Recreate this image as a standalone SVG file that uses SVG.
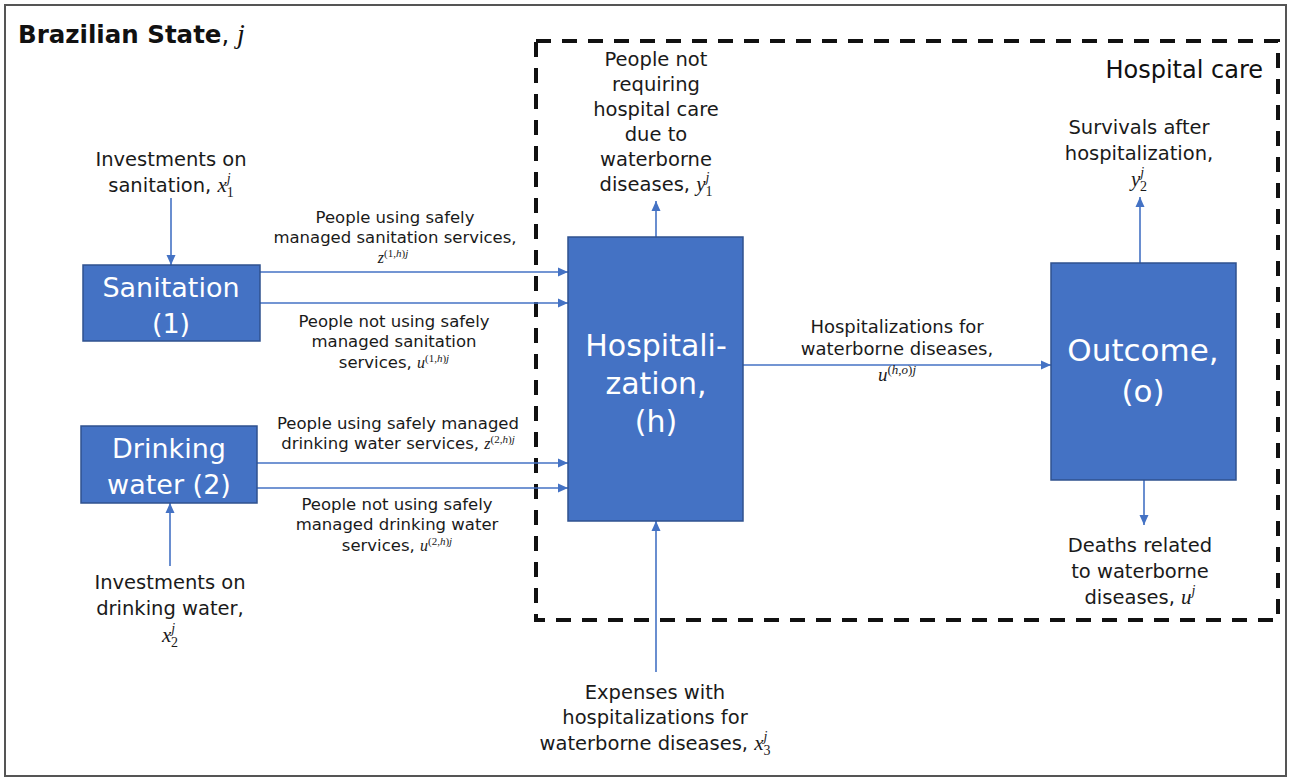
<svg xmlns="http://www.w3.org/2000/svg" width="1292" height="780" viewBox="0 0 1292 780">
<defs>
<marker id="ah" viewBox="0 0 10 10" refX="10" refY="5" markerWidth="10" markerHeight="10" markerUnits="userSpaceOnUse" orient="auto">
<path d="M0,0.5 L10,5 L0,9.5 Z" fill="#4472C4"/>
</marker>
<style>
.box{fill:#4472C4;stroke:#2F528F;stroke-width:1.5}
.nt{font-family:"DejaVu Sans","Liberation Sans",Arial,sans-serif;fill:#fff;text-anchor:middle}
.lb{font-family:"DejaVu Sans","Liberation Sans",Arial,sans-serif;fill:#1a1a1a;text-anchor:middle}
.m{font-family:"Liberation Serif","Times New Roman",serif;font-style:italic}
.mu{font-family:"Liberation Serif","Times New Roman",serif;font-style:normal}
.c{stroke:#4472C4;stroke-width:1.6;fill:none;marker-end:url(#ah)}
</style>
</defs>
<rect x="0" y="0" width="1292" height="780" fill="#fff"/>
<rect x="5" y="5" width="1281" height="771" fill="none" stroke="#555" stroke-width="2"/>
<text x="18" y="43" font-family="DejaVu Sans,Liberation Sans,sans-serif" font-weight="bold" font-size="24.5" fill="#111">Brazilian State<tspan font-weight="normal">, </tspan><tspan class="m" font-weight="normal" font-size="28">j</tspan></text>
<g id="hospital-care">
<rect x="536" y="41" width="742" height="579" fill="none" stroke="#111" stroke-width="4" stroke-dasharray="15 11"/>
<text x="1263" y="78" font-family="DejaVu Sans,Liberation Sans,sans-serif" font-size="24" fill="#111" text-anchor="end">Hospital care</text>
</g>
<g id="connectors">
<line class="c" x1="171" y1="198" x2="171" y2="265"/>
<line class="c" x1="170" y1="566" x2="170" y2="503"/>
<line class="c" x1="260" y1="272" x2="568" y2="272"/>
<line class="c" x1="260" y1="303" x2="568" y2="303"/>
<line class="c" x1="257" y1="463" x2="568" y2="463"/>
<line class="c" x1="257" y1="488" x2="568" y2="488"/>
<line class="c" x1="656" y1="237" x2="656" y2="201"/>
<line class="c" x1="656" y1="672" x2="656" y2="521"/>
<line class="c" x1="743" y1="365" x2="1051" y2="365"/>
<line class="c" x1="1140" y1="263" x2="1140" y2="197"/>
<line class="c" x1="1144" y1="480" x2="1144" y2="525"/>
</g>
<g id="sanitation">
<rect class="box" x="83" y="265" width="177" height="76"/>
<text class="nt" x="171" y="297" font-size="27">Sanitation</text>
<text class="nt" x="171" y="333" font-size="27">(1)</text>
</g>
<g id="drinking-water">
<rect class="box" x="81" y="426" width="176" height="77"/>
<text class="nt" x="169" y="458" font-size="27">Drinking</text>
<text class="nt" x="169" y="494" font-size="27">water (2)</text>
</g>
<g id="hospitalization">
<rect class="box" x="568" y="237" width="175" height="284"/>
<text class="nt" x="656" y="356" font-size="30">Hospitali-</text>
<text class="nt" x="656" y="394" font-size="30">zation,</text>
<text class="nt" x="656" y="432" font-size="30">(h)</text>
</g>
<g id="outcome">
<rect class="box" x="1051" y="263" width="185" height="217"/>
<text class="nt" x="1143" y="361" font-size="31">Outcome,</text>
<text class="nt" x="1143" y="402" font-size="31">(o)</text>
</g>
<g id="labels">
<text class="lb" x="171" y="166" font-size="19.5">Investments on</text>
<text class="lb" x="171" y="192" font-size="19.5">sanitation, <tspan class="m" font-size="21">x</tspan><tspan class="m" font-size="14" dy="-9">j</tspan><tspan class="mu" font-size="14" dx="-4" dy="14">1</tspan></text>

<text class="lb" x="395" y="223" font-size="16.5">People using safely</text>
<text class="lb" x="395" y="243" font-size="16.5">managed sanitation services,</text>
<text class="lb" x="393" y="263" font-size="16.5"><tspan class="m" font-size="16">z</tspan><tspan class="mu" font-size="11" dy="-6">(1,</tspan><tspan class="m" font-size="11">h</tspan><tspan class="mu" font-size="11">)</tspan><tspan class="m" font-size="11">j</tspan></text>

<text class="lb" x="394" y="327" font-size="16.5">People not using safely</text>
<text class="lb" x="394" y="347" font-size="16.5">managed sanitation</text>
<text class="lb" x="394" y="368" font-size="16.5">services, <tspan class="m" font-size="16">u</tspan><tspan class="mu" font-size="11" dy="-6">(1,</tspan><tspan class="m" font-size="11">h</tspan><tspan class="mu" font-size="11">)</tspan><tspan class="m" font-size="11">j</tspan></text>

<text class="lb" x="398" y="429" font-size="16.5">People using safely managed</text>
<text class="lb" x="398" y="449" font-size="16.5">drinking water services, <tspan class="m" font-size="16">z</tspan><tspan class="mu" font-size="11" dy="-6">(2,</tspan><tspan class="m" font-size="11">h</tspan><tspan class="mu" font-size="11">)</tspan><tspan class="m" font-size="11">j</tspan></text>

<text class="lb" x="397" y="510" font-size="16.5">People not using safely</text>
<text class="lb" x="397" y="530" font-size="16.5">managed drinking water</text>
<text class="lb" x="397" y="551" font-size="16.5">services, <tspan class="m" font-size="16">u</tspan><tspan class="mu" font-size="11" dy="-6">(2,</tspan><tspan class="m" font-size="11">h</tspan><tspan class="mu" font-size="11">)</tspan><tspan class="m" font-size="11">j</tspan></text>

<text class="lb" x="170" y="589" font-size="19.5">Investments on</text>
<text class="lb" x="170" y="615" font-size="19.5">drinking water,</text>
<text class="lb" x="170" y="642" font-size="19.5"><tspan class="m" font-size="21">x</tspan><tspan class="m" font-size="14" dy="-9">j</tspan><tspan class="mu" font-size="14" dx="-4" dy="14">2</tspan></text>

<text class="lb" x="656" y="66" font-size="19.5">People not</text>
<text class="lb" x="656" y="91" font-size="19.5">requiring</text>
<text class="lb" x="656" y="116" font-size="19.5">hospital care</text>
<text class="lb" x="656" y="141" font-size="19.5">due to</text>
<text class="lb" x="656" y="166" font-size="19.5">waterborne</text>
<text class="lb" x="656" y="191" font-size="19.5">diseases, <tspan class="m" font-size="21">y</tspan><tspan class="m" font-size="14" dy="-9">j</tspan><tspan class="mu" font-size="14" dx="-4" dy="14">1</tspan></text>

<text class="lb" x="897" y="333" font-size="18">Hospitalizations for</text>
<text class="lb" x="897" y="355" font-size="18">waterborne diseases,</text>
<text class="lb" x="897" y="381" font-size="18"><tspan class="m" font-size="19">u</tspan><tspan class="mu" font-size="13" dy="-7">(</tspan><tspan class="m" font-size="13">h</tspan><tspan class="mu" font-size="13">,</tspan><tspan class="m" font-size="13">o</tspan><tspan class="mu" font-size="13">)</tspan><tspan class="m" font-size="13">j</tspan></text>

<text class="lb" x="1139" y="134" font-size="19.5">Survivals after</text>
<text class="lb" x="1139" y="160" font-size="19.5">hospitalization,</text>
<text class="lb" x="1139" y="186" font-size="19.5"><tspan class="m" font-size="21">y</tspan><tspan class="m" font-size="14" dy="-9">j</tspan><tspan class="mu" font-size="14" dx="-4" dy="14">2</tspan></text>

<text class="lb" x="1140" y="552" font-size="19.5">Deaths related</text>
<text class="lb" x="1140" y="578" font-size="19.5">to waterborne</text>
<text class="lb" x="1140" y="604" font-size="19.5">diseases, <tspan class="m" font-size="21">u</tspan><tspan class="m" font-size="14" dy="-9">j</tspan></text>

<text class="lb" x="655" y="699" font-size="19.5">Expenses with</text>
<text class="lb" x="655" y="724" font-size="19.5">hospitalizations for</text>
<text class="lb" x="655" y="750" font-size="19.5">waterborne diseases, <tspan class="m" font-size="21">x</tspan><tspan class="m" font-size="14" dy="-9">j</tspan><tspan class="mu" font-size="14" dx="-4" dy="14">3</tspan></text>
</g>
</svg>
